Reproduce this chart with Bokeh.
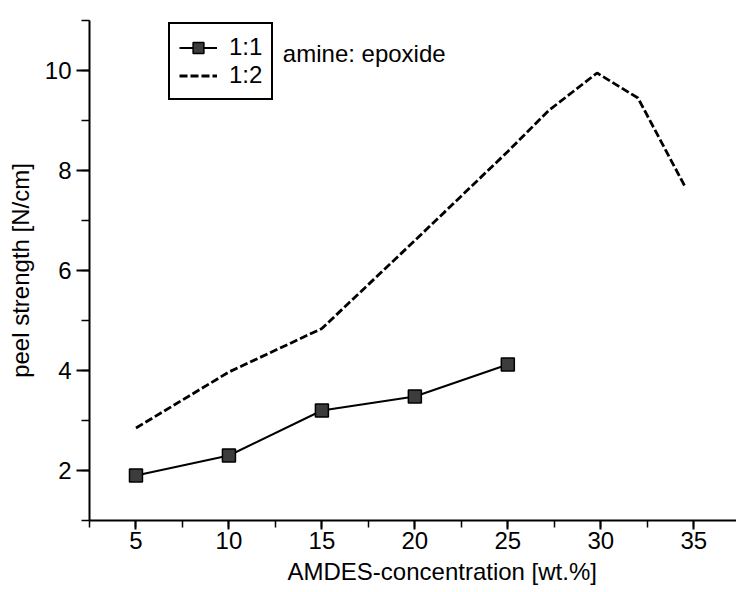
from bokeh.plotting import figure
from bokeh.models import Range1d, Legend, LegendItem, Label, FixedTicker, Title
from bokeh.embed import file_html
from bokeh.resources import INLINE

# data
conc_11 = [5, 10, 15, 20, 25]
peel_11 = [1.9, 2.3, 3.2, 3.48, 4.12]
conc_12 = [5, 10, 15, 20, 25, 27.2, 29.8, 32, 34.5]
peel_12 = [2.85, 3.97, 4.84, 6.6, 8.38, 9.2, 9.95, 9.45, 7.7]
x_ticks = [5, 10, 15, 20, 25, 30, 35]
y_ticks = [2, 4, 6, 8, 10]

FONT = "Liberation Sans"

p = figure(width=736, height=592, output_backend="svg", toolbar_location=None,
           x_range=Range1d(2.5, 37.3), y_range=Range1d(1, 11),
           min_border_left=89, min_border_right=0, min_border_top=20, min_border_bottom=72)
p.outline_line_color = None
p.xgrid.visible = False
p.ygrid.visible = False
p.background_fill_color = "white"
p.border_fill_color = "white"

for ax in (p.xaxis[0], p.yaxis[0]):
    ax.axis_line_width = 2
    ax.axis_line_color = "black"
    ax.major_tick_line_width = 2
    ax.minor_tick_line_width = 1.5
    ax.major_tick_in = 0
    ax.minor_tick_in = 0
    ax.major_label_text_font = FONT
    ax.major_label_text_font_size = "24px"
    ax.major_label_text_color = "black"
    ax.axis_label_text_font = FONT
    ax.axis_label_text_font_size = "24px"
    ax.axis_label_text_font_style = "normal"
    ax.axis_label_text_color = "black"

p.xaxis.ticker = FixedTicker(ticks=x_ticks, minor_ticks=[2.5 + 2.5 * i for i in range(15)])
p.yaxis.ticker = FixedTicker(ticks=y_ticks, minor_ticks=list(range(1, 12)))
p.xaxis.major_tick_out = 9
p.xaxis.minor_tick_out = 7
p.yaxis.major_tick_out = 13
p.yaxis.minor_tick_out = 8
p.xaxis.major_label_standoff = 2
p.yaxis.major_label_standoff = 5
p.yaxis.axis_label = "peel strength [N/cm]"
p.yaxis.axis_label_standoff = 8

r12 = p.line(conc_12, peel_12, line_color="black", line_width=2.8, line_dash="8 3")
r11l = p.line(conc_11, peel_11, line_color="black", line_width=2)
r11s = p.scatter(conc_11, peel_11, marker="square", size=13, fill_color="#3c3c3c",
                 line_color="black", line_width=1.5)

legend = Legend(items=[LegendItem(label="1:1", renderers=[r11l, r11s]),
                       LegendItem(label="1:2", renderers=[r12])],
                location=(79, 420), orientation="vertical")
legend.border_line_color = "black"
legend.border_line_alpha = 1.0
legend.border_line_width = 2
legend.background_fill_color = "white"
legend.background_fill_alpha = 1.0
legend.label_text_font = FONT
legend.label_text_font_size = "24px"
legend.label_text_color = "black"
legend.glyph_width = 38
legend.glyph_height = 27
legend.label_height = 27
legend.label_standoff = 12
legend.padding = 9
legend.spacing = 0
legend.margin = 0
p.add_layout(legend)

p.add_layout(Label(x=12.9, y=10.34, text="amine: epoxide", text_font=FONT,
                   text_font_size="24px", text_color="black",
                   text_baseline="middle", text_align="left"))

# x-axis title (sits further right, as in the cropped original)
xt = Title(text="AMDES-concentration [wt.%]", align="left", offset=198,
           text_font=FONT, text_font_size="24px", text_font_style="normal",
           text_color="black", standoff=8)
p.add_layout(xt, "below")

open("out.html", "w").write(file_html(p, INLINE))
